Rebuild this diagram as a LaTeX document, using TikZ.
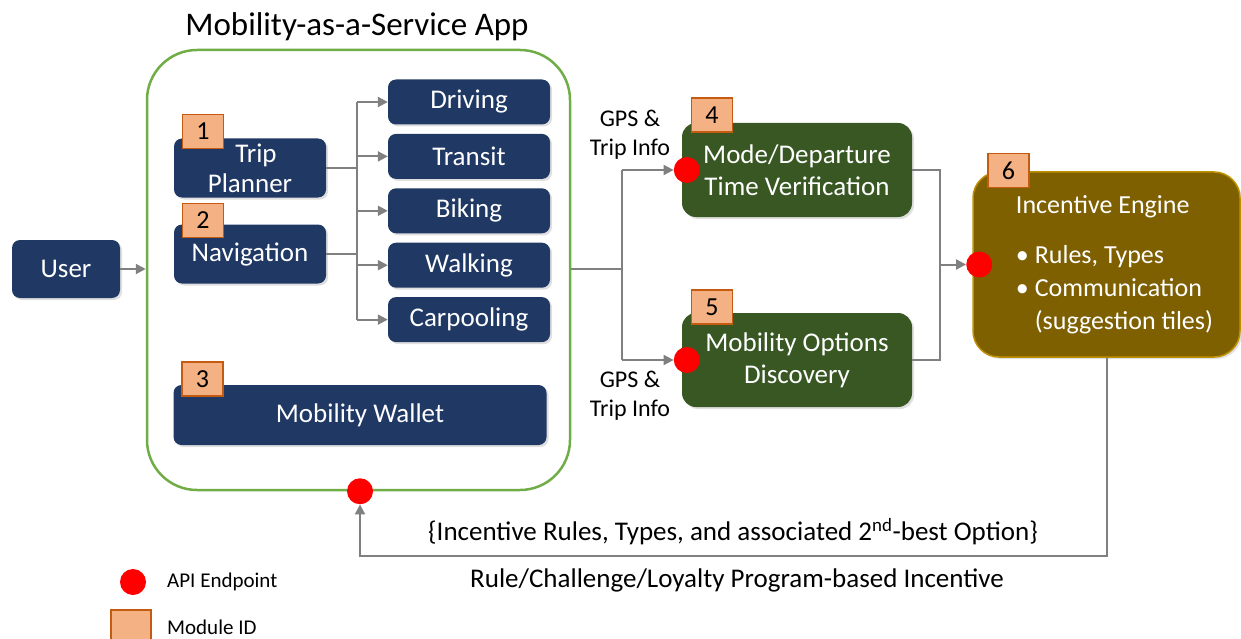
\documentclass[tikz,border=0pt]{standalone}
\usepackage{fontspec}
\setmainfont{Carlito}
\usetikzlibrary{arrows.meta, positioning, shadows}

\definecolor{navy}{RGB}{32,56,100}
\definecolor{forest}{RGB}{56,87,35}
\definecolor{olive}{RGB}{127,96,0}
\definecolor{oliveline}{RGB}{191,144,0}
\definecolor{modfill}{RGB}{244,177,131}
\definecolor{modline}{RGB}{197,90,17}
\definecolor{appgreen}{RGB}{112,173,71}
\definecolor{linkgray}{RGB}{128,128,128}

\begin{document}
\begin{tikzpicture}[
    x=1pt, y=1pt,
    node distance = 9pt and 30pt,
    navybox/.style = {
        rounded corners=8pt,
        fill=navy,
        text=white,
        align=center,
        font=\fontsize{27}{30}\selectfont,
        inner sep=2pt,
        drop shadow={shadow xshift=2pt, shadow yshift=-2pt, opacity=0.25}
    },
    greenbox/.style = {
        rounded corners=14pt,
        fill=forest,
        text=white,
        align=center,
        font=\fontsize{27}{32}\selectfont,
        minimum width=230pt,
        minimum height=94pt,
        drop shadow={shadow xshift=2pt, shadow yshift=-2pt, opacity=0.25}
    },
    modid/.style = {
        draw=modline,
        fill=modfill,
        line width=1.5pt,
        font=\fontsize{26}{30}\selectfont,
        minimum width=41pt,
        minimum height=34pt,
        inner sep=0pt
    },
    api/.style = {circle, fill=red, minimum size=26pt, inner sep=0pt},
    link/.style = {draw=linkgray, line width=2pt},
    arrow/.style = {link, -{Triangle[length=10pt, width=10pt]}},
    lbl/.style = {font=\fontsize{24}{29}\selectfont, align=center, inner sep=0pt},
    note/.style = {font=\fontsize{27}{32}\selectfont, inner sep=0pt},
    key/.style = {font=\fontsize{21}{25}\selectfont, anchor=west, inner sep=0pt}
]

\useasboundingbox (0,0) rectangle (1241,-639);

%% ── App ─────────────────────────────────────────────────────────────────────

\node[draw=appgreen, line width=2.5pt, rounded corners=50pt,
      minimum width=423pt, minimum height=440pt]
      (app) at (358.5,-270) {};
\node[font=\fontsize{33}{38}\selectfont] (apptitle) at (357,-27)
    {Mobility-as-a-Service App};

\node[navybox, minimum width=108pt, minimum height=58pt] (user) at (66,-269) {User};

\node[navybox, minimum width=152pt, minimum height=59pt] (trip) at (250,-168)
    {\hspace*{12pt}Trip\\Planner};
\node[navybox, minimum width=152pt, minimum height=59pt] (nav)  at (250,-254)
    {Navigation};

\node[navybox, minimum width=162pt, minimum height=45pt] (driving) at (469,-102) {Driving};
\node[navybox, minimum width=162pt, minimum height=45pt, below=of driving] (transit) {Transit};
\node[navybox, minimum width=162pt, minimum height=45pt, below=of transit] (biking)  {Biking};
\node[navybox, minimum width=162pt, minimum height=45pt, below=of biking]  (walking) {Walking};
\node[navybox, minimum width=162pt, minimum height=45pt, below=of walking] (carpool) {Carpooling};

\node[navybox, minimum width=373pt, minimum height=60pt] (wallet) at (360,-415)
    {Mobility Wallet};

%% ── Verificación / Descubrimiento / Motor ───────────────────────────────────

\node[greenbox] (mode) at (797,-170) {Mode/Departure\\Time Verification};
\node[greenbox] (opts) at (797,-360) {Mobility Options\\Discovery};

\node[rounded corners=26pt, fill=olive, draw=oliveline, line width=1.5pt,
      text=white, align=left,
      minimum width=267pt, minimum height=185pt,
      font=\fontsize{26}{33}\selectfont,
      drop shadow={shadow xshift=2pt, shadow yshift=-2pt, opacity=0.25}]
      (engine) at (1106.5,-264.5)
    {\hspace*{16pt}Incentive Engine\\[17pt]
     \hspace*{16pt}\textbullet\ Rules, Types\\
     \hspace*{16pt}\textbullet\ Communication\\
     \hspace*{16pt}\phantom{\textbullet\ }(suggestion tiles)};

%% ── Module IDs ──────────────────────────────────────────────────────────────

\node[modid, anchor=south west] (m1) at ([xshift=8pt, yshift=-11pt]trip.north west)   {1};
\node[modid, anchor=south west] (m2) at ([xshift=8pt, yshift=-14pt]nav.north west)    {2};
\node[modid, anchor=south west] (m3) at ([xshift=8pt, yshift=-12pt]wallet.north west) {3};
\node[modid, anchor=south west] (m4) at ([xshift=9pt, yshift=-10pt]mode.north west)   {4};
\node[modid, anchor=south west] (m5) at ([xshift=9pt, yshift=-12pt]opts.north west)   {5};
\node[modid, anchor=south west] (m6) at ([xshift=15pt, yshift=-17pt]engine.north west) {6};

%% ── API endpoints ───────────────────────────────────────────────────────────

\node[api] (api4)   at ([xshift=5pt]mode.west) {};
\node[api] (api5)   at ([xshift=5pt]opts.west) {};
\node[api] (api6)   at ([xshift=7pt]engine.west) {};
\node[api] (apiapp) at ([xshift=1.5pt]app.south) {};

%% ── Flechas ─────────────────────────────────────────────────────────────────

\draw[arrow] (user) -- (app.west |- user);

\coordinate (bus) at (357,-210);
\draw[link] (trip.east) -- (bus |- trip.east);
\draw[link] (nav.east)  -- (bus |- nav.east);
\draw[link] (bus |- driving) -- (bus |- carpool);
\foreach \m in {driving, transit, biking, walking, carpool}
    \draw[arrow] (bus |- \m) -- (\m);

\coordinate (fork) at (622,-269);
\draw[link] (app.east |- fork) -- (fork);
\draw[link] (fork |- api4) -- (fork |- api5);
\draw[arrow] (fork |- api4) -- (api4);
\draw[arrow] (fork |- api5) -- (api5);

\coordinate (merge) at (940,-264.5);
\draw[link] (mode.east) -- (merge |- mode.east) -- (merge |- opts.east) -- (opts.east);
\draw[arrow] (merge) -- (api6);

\draw[arrow] (engine.south) -- ++(0,-198) -| (apiapp);

%% ── Etiquetas ───────────────────────────────────────────────────────────────

\node[lbl] (gps4) at (630,-135) {GPS \&\\Trip Info};
\node[lbl] (gps5) at (630,-396) {GPS \&\\Trip Info};

\node[note] (fbtop) at (733,-532)
    {\{Incentive Rules, Types, and associated 2\textsuperscript{nd}-best Option\}};
\node[note] (fbbot) at (737,-580)
    {Rule/Challenge/Loyalty Program-based Incentive};

%% ── Leyenda ─────────────────────────────────────────────────────────────────

\node[api] (keyapi) at (133,-582) {};
\node[key] (keyapitxt) at (167,-582) {API Endpoint};
\node[modid, minimum width=40pt] (keymod) at (131,-627) {};
\node[key] (keymodtxt) at (167,-627) {Module ID};

\end{tikzpicture}
\end{document}
